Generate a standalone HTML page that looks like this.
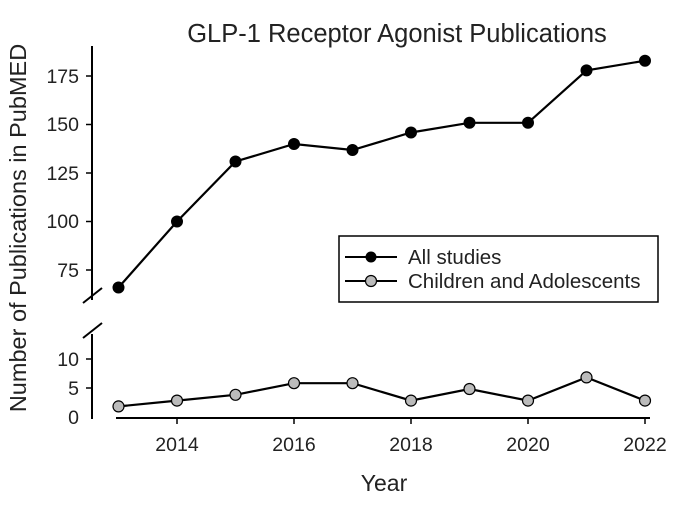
<!DOCTYPE html>
<html><head><style>body{margin:0;background:#fff}</style></head><body>
<svg width="700" height="502" xmlns="http://www.w3.org/2000/svg" font-family="Liberation Sans, sans-serif" fill="#222">
<rect width="700" height="502" fill="#fff"/>
<text x="397" y="42" font-size="25.5" text-anchor="middle">GLP-1 Receptor Agonist Publications</text>
<text transform="translate(26,228) rotate(-90)" font-size="23.5" text-anchor="middle">Number of Publications in PubMED</text>
<text x="384" y="491" font-size="23" text-anchor="middle">Year</text>
<g stroke="#000" stroke-width="2" fill="none">
<line x1="92" y1="46" x2="92" y2="300"/>
<line x1="92" y1="334" x2="92" y2="419"/>
<line x1="83" y1="303" x2="102" y2="288"/>
<line x1="83" y1="338" x2="102" y2="323"/>
<line x1="116" y1="418" x2="650" y2="418"/>
<g stroke-width="1.5">
<line x1="86" y1="76" x2="92" y2="76"/><line x1="86" y1="124.5" x2="92" y2="124.5"/><line x1="86" y1="173" x2="92" y2="173"/><line x1="86" y1="221.5" x2="92" y2="221.5"/><line x1="86" y1="270" x2="92" y2="270"/>
<line x1="86" y1="359" x2="92" y2="359"/><line x1="86" y1="388" x2="92" y2="388"/>
<line x1="177" y1="418" x2="177" y2="424"/><line x1="294" y1="418" x2="294" y2="424"/><line x1="411" y1="418" x2="411" y2="424"/><line x1="528" y1="418" x2="528" y2="424"/><line x1="645" y1="418" x2="645" y2="424"/>
</g>
</g>
<g font-size="19.5" text-anchor="end">
<text x="79" y="83">175</text><text x="79" y="131">150</text><text x="79" y="180">125</text><text x="79" y="228">100</text><text x="79" y="277">75</text>
<text x="79" y="366">10</text><text x="79" y="395">5</text><text x="79" y="424">0</text>
</g>
<g font-size="19.5" text-anchor="middle">
<text x="177" y="451">2014</text><text x="294" y="451">2016</text><text x="411" y="451">2018</text><text x="528" y="451">2020</text><text x="645" y="451">2022</text>
</g>
<polyline fill="none" stroke="#000" stroke-width="2.2" points="118.5,287.5 177,221.5 235.5,161.5 294,144 352.5,150 411,132.5 469.5,122.8 528,122.8 586.5,70.4 645,60.7"/>
<g fill="#000" stroke="#000">
<circle cx="118.5" cy="287.5" r="5.5"/><circle cx="177" cy="221.5" r="5.5"/><circle cx="235.5" cy="161.5" r="5.5"/><circle cx="294" cy="144" r="5.5"/><circle cx="352.5" cy="150" r="5.5"/><circle cx="411" cy="132.5" r="5.5"/><circle cx="469.5" cy="122.8" r="5.5"/><circle cx="528" cy="122.8" r="5.5"/><circle cx="586.5" cy="70.4" r="5.5"/><circle cx="645" cy="60.7" r="5.5"/>
</g>
<polyline fill="none" stroke="#000" stroke-width="2.2" points="118.5,406.4 177,400.6 235.5,394.8 294,383.2 352.5,383.2 411,400.6 469.5,389 528,400.6 586.5,377.4 645,400.6"/>
<g fill="#bbb" stroke="#000" stroke-width="1.2">
<circle cx="118.5" cy="406.4" r="5.5"/><circle cx="177" cy="400.6" r="5.5"/><circle cx="235.5" cy="394.8" r="5.5"/><circle cx="294" cy="383.2" r="5.5"/><circle cx="352.5" cy="383.2" r="5.5"/><circle cx="411" cy="400.6" r="5.5"/><circle cx="469.5" cy="389" r="5.5"/><circle cx="528" cy="400.6" r="5.5"/><circle cx="586.5" cy="377.4" r="5.5"/><circle cx="645" cy="400.6" r="5.5"/>
</g>
<rect x="339" y="236" width="319" height="66" fill="#fff" stroke="#000" stroke-width="1.5"/>
<line x1="345" y1="257" x2="397" y2="257" stroke="#000" stroke-width="2"/>
<circle cx="371" cy="257" r="5.5" fill="#000"/>
<text x="408" y="264" font-size="20.5">All studies</text>
<line x1="345" y1="281" x2="397" y2="281" stroke="#000" stroke-width="2"/>
<circle cx="371" cy="281" r="5.5" fill="#bbb" stroke="#000" stroke-width="1.2"/>
<text x="408" y="288" font-size="20.5">Children and Adolescents</text>
</svg>
</body></html>
